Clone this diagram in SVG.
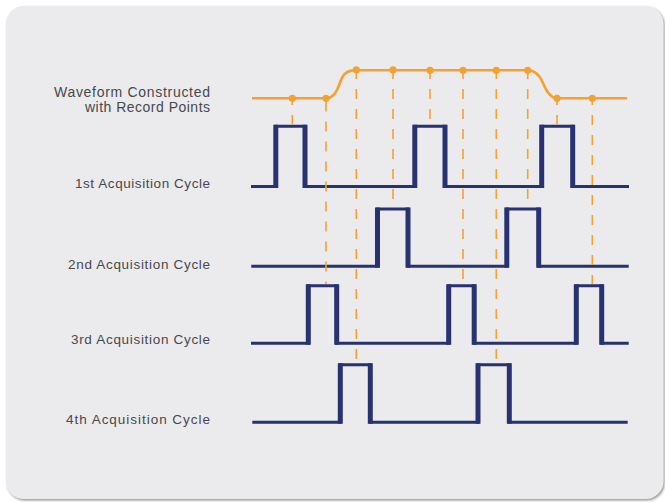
<svg xmlns="http://www.w3.org/2000/svg" width="665" height="502" viewBox="0 0 665 502">
  <defs>
    <filter id="sh" x="-5%" y="-5%" width="110%" height="110%">
      <feDropShadow dx="1.2" dy="1.5" stdDeviation="1.2" flood-color="#8a8a8a" flood-opacity="0.9"/>
    </filter>
    <style>
      .lbl { font-family: "Liberation Sans", Arial, sans-serif; font-size: 13.5px; fill: #48484c; text-anchor: end; }
      .big { font-size: 14px; }
      .sig { fill: none; stroke: #283270; stroke-width: 3; stroke-linejoin: miter; stroke-linecap: butt; }
      .edge { fill: none; stroke: #283270; stroke-width: 5; }
      .dash { fill: none; stroke: #f5a131; stroke-width: 1.6; stroke-dasharray: 10 10; }
      .wave { fill: none; stroke: #f5a131; stroke-width: 2.6; }
      .pt { fill: #f5a131; }
    </style>
  </defs>
  <rect x="0" y="0" width="665" height="502" fill="#ffffff"/>
  <rect id="panel" x="6" y="6" width="657.5" height="493" rx="18" ry="18" fill="#ebebed" filter="url(#sh)"/>

  <g id="labels">
    <text class="lbl big" x="210" y="96.7" textLength="156" lengthAdjust="spacing">Waveform Constructed</text>
    <text class="lbl big" x="210" y="112.3" textLength="125" lengthAdjust="spacing">with Record Points</text>
    <text class="lbl" x="210" y="188" textLength="135" lengthAdjust="spacing">1st Acquisition Cycle</text>
    <text class="lbl" x="210" y="268.5" textLength="142" lengthAdjust="spacing">2nd Acquisition Cycle</text>
    <text class="lbl" x="210" y="343.5" textLength="139" lengthAdjust="spacing">3rd Acquisition Cycle</text>
    <text class="lbl" x="210" y="423.5" textLength="144" lengthAdjust="spacing">4th Acquisition Cycle</text>
  </g>

  <g id="cycle1">
    <path class="sig" d="M251,186.5 H275.8 V126.3 H305 V186.5 H414.8 V126.3 H445 V186.5 H541.7 V126.3 H572.7 V186.5 H629"/>
    <path class="edge" d="M275.8,188 V124.8 M305,124.8 V188 M414.8,188 V124.8 M445,124.8 V188 M541.7,188 V124.8 M572.7,124.8 V188"/>
  </g>
  <g id="cycle2">
    <path class="sig" d="M251.3,266.3 H377.5 V209 H408 V266.3 H506.8 V209 H538.7 V266.3 H628.7"/>
    <path class="edge" d="M377.5,267.8 V207.5 M408,207.5 V267.8 M506.8,267.8 V207.5 M538.7,207.5 V267.8"/>
  </g>
  <g id="cycle3">
    <path class="sig" d="M251,343.3 H308.3 V285.7 H336.7 V343.3 H448.7 V285.7 H474.2 V343.3 H576.3 V285.7 H601.7 V343.3 H628.7"/>
    <path class="edge" d="M308.3,344.8 V284.2 M336.7,284.2 V344.8 M448.7,344.8 V284.2 M474.2,284.2 V344.8 M576.3,344.8 V284.2 M601.7,284.2 V344.8"/>
  </g>
  <g id="cycle4">
    <path class="sig" d="M252.3,422.2 H340.3 V364.7 H370.3 V422.2 H478 V364.7 H509.3 V422.2 H627.7"/>
    <path class="edge" d="M340.3,423.7 V363.2 M370.3,363.2 V423.7 M478,423.7 V363.2 M509.3,363.2 V423.7"/>
  </g>

  <g id="connectors">
    <line class="dash" x1="292.3" y1="95" x2="292.3" y2="124.5"/>
    <line class="dash" x1="326" y1="101.5" x2="326" y2="284"/>
    <line class="dash" x1="356.3" y1="69" x2="356.3" y2="363"/>
    <line class="dash" x1="393" y1="69" x2="393" y2="207.5"/>
    <line class="dash" x1="430" y1="69" x2="430" y2="124.5"/>
    <line class="dash" x1="463" y1="69" x2="463" y2="284"/>
    <line class="dash" x1="496.3" y1="69" x2="496.3" y2="363"/>
    <line class="dash" x1="527.7" y1="69" x2="527.7" y2="207.5"/>
    <line class="dash" x1="557" y1="95" x2="557" y2="124.5"/>
    <line class="dash" x1="592.3" y1="95" x2="592.3" y2="284"/>
  </g>

  <g id="waveform">
    <path class="wave" d="M252,98.3 H326 C335,98.3 338,88 341,80 C344,72.5 348,70.3 356,70.3 H527.7 C536,70.3 540,76 543,83 C547,93 551,98.3 557,98.3 H627"/>
    <circle class="pt" cx="292.3" cy="98.3" r="3.6"/>
    <circle class="pt" cx="326" cy="98.3" r="3.6"/>
    <circle class="pt" cx="356.3" cy="69.8" r="3.6"/>
    <circle class="pt" cx="393" cy="69.8" r="3.6"/>
    <circle class="pt" cx="430" cy="70.3" r="3.6"/>
    <circle class="pt" cx="463" cy="70.3" r="3.6"/>
    <circle class="pt" cx="496.3" cy="70.3" r="3.6"/>
    <circle class="pt" cx="527.7" cy="70.3" r="3.6"/>
    <circle class="pt" cx="557" cy="98.3" r="3.6"/>
    <circle class="pt" cx="592.3" cy="98.3" r="3.6"/>
  </g>
</svg>
